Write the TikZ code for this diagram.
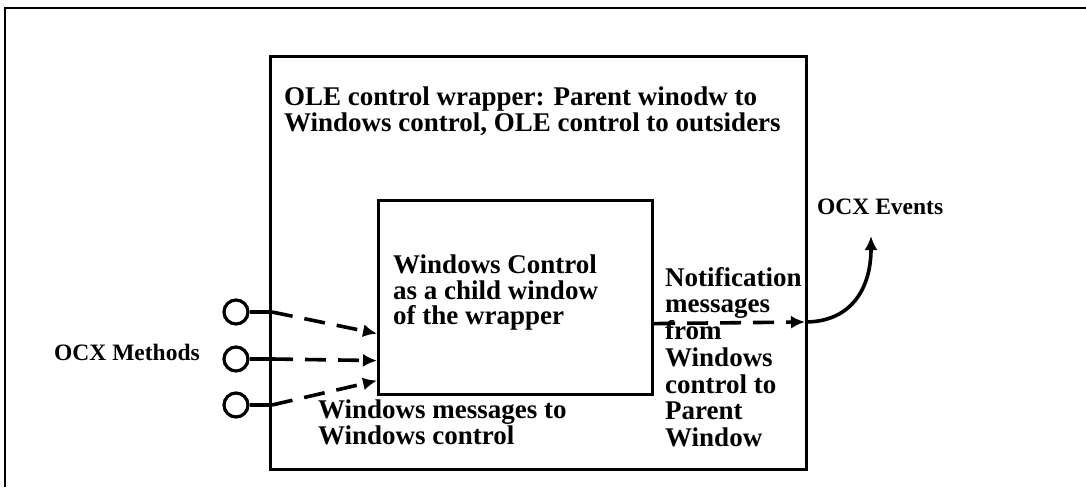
\documentclass[tikz,border=0pt]{standalone}
\usepackage{fontspec}
\setmainfont{Liberation Serif}
\usetikzlibrary{arrows.meta}
\tikzset{
  lbl/.style={font=\fontsize{27pt}{25.5pt}\selectfont\bfseries, align=left, inner sep=0pt, anchor=north west},
  small/.style={font=\fontsize{23.5pt}{24pt}\selectfont\bfseries, inner sep=0pt, anchor=west},
  box/.style={draw, line width=3.2pt, inner sep=0pt},
  port/.style={circle, draw, line width=3.2pt, minimum size=24pt, inner sep=0pt},
  conn/.style={line width=3.6pt},
  dconn/.style={line width=3.6pt, dash pattern=on 21pt off 12pt},
  tip/.style={-{Latex[length=14pt,width=13pt]}}
}
\begin{document}
\begin{tikzpicture}[x=1pt,y=-1pt]
\useasboundingbox (0,0) rectangle (1086,487);
% outer frame (only top and left visible)
\draw[line width=2.4pt] (5,487) -- (5,8) -- (1086,8);
% wrapper and inner boxes
\node[box, minimum width=536pt, minimum height=413pt, anchor=north west] (wrapper) at (269,55) {};
\node[box, minimum width=274pt, minimum height=194pt, anchor=north west] (inner) at (377,199) {};
% texts
\node[lbl] (title) at (284,87) {OLE control wrapper: Parent winodw to\\Windows control, OLE control to outsiders};
\node[lbl] (innertxt) at (393,255) {Windows Control\\as a child window\\of the wrapper};
\node[lbl] (wmsg) at (318,400) {Windows messages to\\Windows control};
\node[lbl, font=\fontsize{27pt}{26.7pt}\selectfont\bfseries] (notif) at (665,267) {Notification\\messages\\from\\Windows\\control to\\Parent\\Window};
\node[small] (methods) at (54,352) {OCX Methods};
\node[small] (events) at (817,207) {OCX Events};
% ports
\node[port] (c1) at (236,312) {};
\node[port] (c2) at (236,359) {};
\node[port] (c3) at (236,405) {};
\coordinate (k1) at (272,312);
\coordinate (k2) at (272,359);
\coordinate (k3) at (272,405);
\draw[conn] (c1.east) -- (k1);
\draw[conn] (c2.east) -- (k2);
\draw[conn] (c3.east) -- (k3);
\draw[dconn, tip] (k1) -- ([yshift=-36pt]inner.west);
\draw[dconn, tip] (k2) -- ([yshift=-63pt]inner.west);
\draw[dconn, tip] (k3) -- ([yshift=-83pt]inner.west);
% notification arrow
\coordinate (out) at (805,322);
\coordinate (ev) at (871,236);
\draw[dconn, tip] ([yshift=-26pt]inner.east) -- (out);
\draw[conn, tip] (out) .. controls (850,322) and (871,290) .. (ev);
\end{tikzpicture}
\end{document}
